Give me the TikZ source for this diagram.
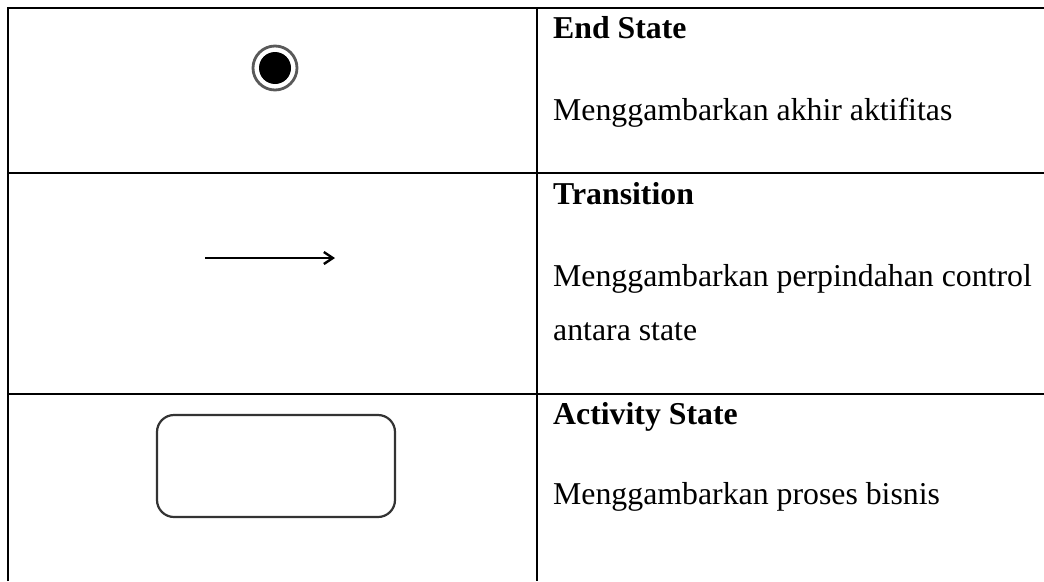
\documentclass[tikz,border=0pt]{standalone}
\usepackage{fontspec}
\setmainfont{Liberation Serif}
\usetikzlibrary{arrows.meta}
\begin{document}
\begin{tikzpicture}[x=1pt,y=-1pt,
  rule/.style={line width=2pt},
  ttl/.style={anchor=base west, inner sep=0pt, font=\fontsize{31.8}{38}\selectfont\bfseries},
  dsc/.style={anchor=base west, inner sep=0pt, font=\fontsize{31.8}{38}\selectfont}]
\useasboundingbox (0,0) rectangle (1044,581);
% table rules
\draw[rule] (8,581) -- (8,7.5) -- (1044,7.5);
\draw[rule] (537,7.5) -- (537,581);
\draw[rule] (7,173) -- (1044,173);
\draw[rule] (7,394) -- (132,394);
\draw[line width=1.3pt] (132,394) -- (377,394);
\draw[rule] (377,394) -- (1044,394);
% end state symbol
\node[circle, draw=black!65, line width=2.8pt, minimum size=44pt, inner sep=0pt] (endring) at (275,68) {};
\node[circle, fill=black, minimum size=32pt, inner sep=0pt] (enddot) at (275,68) {};
% transition arrow
\coordinate (ta) at (205,258);
\coordinate (tb) at (335,258);
\draw[line width=2.2pt, -{Straight Barb[length=9pt,width=12pt,line width=2.4pt]}] (ta) -- (tb);
% activity state symbol
\node[draw=black!80, line width=2.2pt, rounded corners=17pt, minimum width=238pt, minimum height=102pt, inner sep=0pt] (act) at (276,466) {};
% texts
\node[ttl] (t1) at (553,38) {End State};
\node[dsc] (d1) at (553,120) {Menggambarkan akhir aktifitas};
\node[ttl] (t2) at (553,204) {Transition};
\node[dsc] (d2a) at (553,286) {Menggambarkan perpindahan control};
\node[dsc] (d2b) at (553,340) {antara state};
\node[ttl] (t3) at (553,424) {Activity State};
\node[dsc] (d3) at (553,504) {Menggambarkan proses bisnis};
\end{tikzpicture}
\end{document}
